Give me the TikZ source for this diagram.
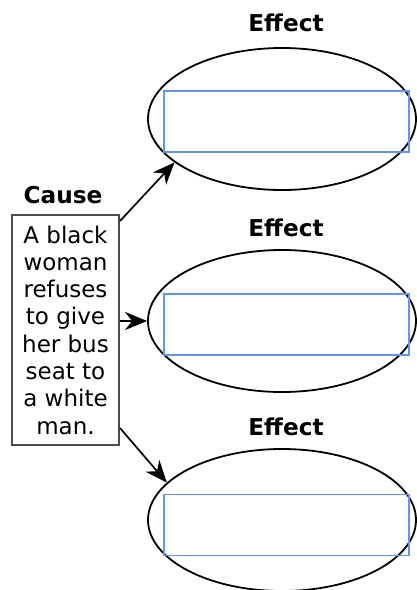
\documentclass[tikz,border=0pt]{standalone}
\usepackage{fontspec}
\setmainfont{DejaVu Sans}
\usetikzlibrary{arrows.meta,calc,shapes.geometric}
\definecolor{slotblue}{RGB}{100,149,237}
\begin{document}
\begin{tikzpicture}[x=1pt,y=-1pt,
  effectshape/.style={ellipse,draw,line width=1.8pt,minimum width=268pt,minimum height=142pt,inner sep=0pt},
  slot/.style={draw=slotblue,line width=1.3pt,minimum width=245pt,minimum height=61pt,inner sep=0pt},
  heading/.style={font=\bfseries\fontsize{23.2}{27}\selectfont,inner sep=0pt},
  causebox/.style={draw=black!70,line width=2pt,minimum width=107pt,minimum height=230pt,align=center,inner sep=0pt,font=\fontsize{23}{27.3}\selectfont},
  link/.style={line width=1.7pt,-{Stealth[length=22pt,width=18pt,inset=7pt]}}]
\useasboundingbox (0,0) rectangle (417,590);
% effects
\node[heading] (h1) at (286,23) {Effect};
\node[effectshape] (e1) at (282,119) {};
\node[slot] (s1) at (286.5,121.5) {};
\node[heading] (h2) at (286,228) {Effect};
\node[effectshape] (e2) at (282,321) {};
\node[slot] (s2) at (286.5,324.5) {};
\node[heading] (h3) at (286,427) {Effect};
\node[effectshape] (e3) at (282,520) {};
\node[slot] (s3) at (286.5,525) {};
% cause
\node[heading] (hc) at (63,195) {Cause};
\node[causebox] (c) at (65.5,330) {A black\\woman\\refuses\\to give\\her bus\\seat to\\a white\\man.};
% links
\draw[link] ($(c.north east)+(0,7)$) -- (e1.202);
\draw[link] (c.east |- e2.west) -- (e2.west);
\draw[link] ($(c.south east)+(0,-18)$) -- (e3.162);
\end{tikzpicture}
\end{document}
